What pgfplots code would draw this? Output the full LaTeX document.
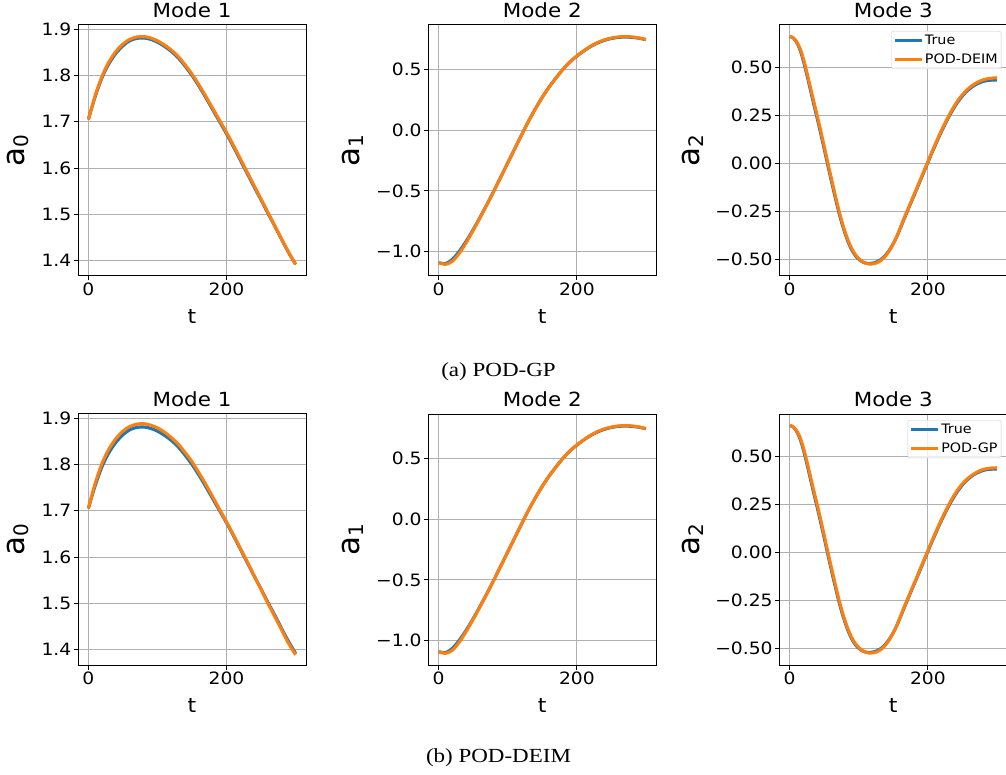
\documentclass[border=0pt]{standalone}
\usepackage{fontspec}
\setmainfont{DejaVu Sans}[FakeStretch=1.1]
\newfontfamily\labfont{DejaVu Sans}
\newfontfamily\capfont{Liberation Serif}[FakeStretch=1.15]
\usepackage{pgfplots}
\usepackage{pgfplotstable}
\pgfplotsset{compat=1.18}

\definecolor{mplblue}{HTML}{1F77B4}
\definecolor{mplorange}{HTML}{FF7F0E}
\definecolor{gridgray}{HTML}{B0B0B0}
\definecolor{leggray}{HTML}{CCCCCC}

% t, True, POD-DEIM (row a), POD-GP (row b)
\pgfplotstableread{
t   tru    deim   gp
0   1.705  1.705  1.705
10  1.755  1.757  1.760
20  1.796  1.799  1.803
30  1.826  1.830  1.834
40  1.848  1.852  1.856
50  1.864  1.868  1.872
60  1.875  1.878  1.882
70  1.880  1.883  1.887
80  1.881  1.884  1.888
90  1.878  1.881  1.885
100 1.872  1.875  1.879
110 1.863  1.866  1.870
120 1.852  1.855  1.858
130 1.838  1.841  1.844
140 1.820  1.823  1.826
150 1.800  1.803  1.806
160 1.777  1.780  1.782
170 1.752  1.755  1.757
180 1.726  1.729  1.730
190 1.700  1.703  1.703
200 1.674  1.677  1.676
210 1.646  1.649  1.648
220 1.617  1.620  1.619
230 1.588  1.591  1.590
240 1.559  1.562  1.560
250 1.531  1.533  1.530
260 1.502  1.504  1.500
270 1.474  1.475  1.471
280 1.445  1.446  1.442
290 1.417  1.418  1.413
300 1.392  1.392  1.389
}\modeone

\pgfplotstableread{
t   tru     deim    gp
0   -1.090  -1.090  -1.090
10  -1.098  -1.104  -1.104
20  -1.062  -1.078  -1.078
30  -0.995  -1.012  -1.010
40  -0.912  -0.925  -0.923
50  -0.818  -0.825  -0.824
60  -0.716  -0.720  -0.720
70  -0.610  -0.612  -0.612
80  -0.500  -0.500  -0.500
90  -0.385  -0.385  -0.385
100 -0.270  -0.270  -0.270
110 -0.155  -0.155  -0.155
120 -0.040  -0.040  -0.040
130 0.072   0.072   0.072
140 0.175   0.175   0.175
150 0.270   0.270   0.270
160 0.355   0.355   0.355
170 0.430   0.430   0.430
180 0.500   0.500   0.500
190 0.560   0.560   0.560
200 0.608   0.610   0.610
210 0.650   0.652   0.652
220 0.687   0.690   0.690
230 0.716   0.720   0.720
240 0.738   0.742   0.742
250 0.753   0.757   0.757
260 0.762   0.766   0.766
270 0.765   0.769   0.769
280 0.762   0.766   0.766
290 0.755   0.758   0.758
300 0.743   0.745   0.745
}\modetwo

\pgfplotstableread{
t   tru     deim    gp
0   0.662   0.662   0.662
5   0.655   0.656   0.656
10  0.632   0.636   0.636
15  0.592   0.600   0.600
20  0.533   0.545   0.545
25  0.461   0.474   0.474
30  0.384   0.398   0.398
35  0.307   0.322   0.322
40  0.233   0.248   0.248
45  0.155   0.170   0.170
50  0.075   0.090   0.090
55  -0.006  0.008   0.008
60  -0.086  -0.072  -0.072
65  -0.163  -0.150  -0.150
70  -0.238  -0.226  -0.226
75  -0.305  -0.294  -0.294
80  -0.363  -0.354  -0.354
85  -0.412  -0.404  -0.404
90  -0.451  -0.444  -0.444
95  -0.480  -0.474  -0.474
100 -0.499  -0.495  -0.495
105 -0.512  -0.510  -0.510
110 -0.519  -0.519  -0.519
115 -0.521  -0.524  -0.524
120 -0.519  -0.523  -0.523
125 -0.514  -0.519  -0.519
130 -0.505  -0.510  -0.510
135 -0.491  -0.496  -0.496
140 -0.472  -0.476  -0.476
145 -0.447  -0.450  -0.450
150 -0.417  -0.418  -0.418
155 -0.381  -0.380  -0.380
160 -0.339  -0.336  -0.336
165 -0.295  -0.290  -0.290
170 -0.252  -0.247  -0.247
175 -0.209  -0.205  -0.205
180 -0.167  -0.162  -0.162
185 -0.124  -0.119  -0.119
190 -0.081  -0.076  -0.076
195 -0.038  -0.033  -0.033
200 0.005   0.010   0.010
205 0.048   0.053   0.053
210 0.089   0.095   0.095
215 0.130   0.136   0.136
220 0.169   0.175   0.175
225 0.206   0.212   0.212
230 0.241   0.247   0.247
235 0.273   0.280   0.280
240 0.303   0.310   0.310
245 0.329   0.336   0.336
250 0.352   0.359   0.358
255 0.372   0.378   0.377
260 0.388   0.395   0.393
265 0.402   0.409   0.406
270 0.413   0.420   0.417
275 0.421   0.429   0.426
280 0.428   0.436   0.433
285 0.432   0.441   0.437
290 0.434   0.444   0.440
295 0.435   0.446   0.441
300 0.435   0.447   0.442
}\modethree

\pgfplotsset{
  panel/.style={
    scale only axis, width=228pt, height=251pt,
    anchor=south west,
    xmin=-15, xmax=315,
    xtick={0,200}, xticklabels={0,200},
    xtick pos=bottom, ytick pos=left,
    tick align=outside, major tick length=4.5pt,
    every tick/.style={black, line width=0.9pt},
    axis line style={line width=1pt},
    grid=major, grid style={gridgray, line width=1pt},
    ticklabel style={font=\fontsize{17}{17}\selectfont, inner sep=0pt},
    yticklabel style={anchor=east, xshift=-2pt},
    xticklabel style={anchor=north, yshift=-2pt},
    title style={font=\fontsize{19.5}{20}\selectfont, at={(0.5,1)}, anchor=base, yshift=1.7pt, inner sep=0pt},
    xlabel={t},
    xlabel style={font=\fontsize{20}{20}\selectfont, at={(axis description cs:0.5,0)}, anchor=base, yshift=-47.3pt, inner sep=0pt},
    ylabel style={font=\labfont\fontsize{31}{31}\selectfont, rotate=0, anchor=south, inner sep=0pt},
    every axis plot/.append style={line width=3.1pt, smooth, no markers},
    legend cell align=left,
    legend image code/.code={\draw[#1, line width=3pt] (0pt,0pt) -- (27pt,0pt);},
    legend style={at={(1,1)}, anchor=north east, xshift=-6pt, yshift=-6pt,
      draw=leggray, fill=white, fill opacity=0.8, text opacity=1,
      rounded corners=2pt, font=\fontsize{13}{13}\selectfont,
      inner xsep=2pt, inner ysep=2.5pt, row sep=4.5pt,
      nodes={inner sep=1.5pt}},
  },
  modeone/.style={panel, title={Mode 1},
    ymin=1.367, ymax=1.909,
    ytick={1.4,1.5,1.6,1.7,1.8,1.9}, yticklabels={1.4,1.5,1.6,1.7,1.8,1.9},
    ylabel={a\raisebox{-4pt}{\fontsize{20}{20}\selectfont 0}},
    ylabel style={at={(axis description cs:-0.2136,0.5)}}},
  modetwo/.style={panel, title={Mode 2},
    ymin=-1.2, ymax=0.864,
    ytick={-1,-0.5,0,0.5}, yticklabels={−1.0,−0.5,0.0,0.5},
    ylabel={a\raisebox{-4pt}{\fontsize{20}{20}\selectfont 1}},
    ylabel style={at={(axis description cs:-0.285,0.5)}}},
  modethree/.style={panel, title={Mode 3},
    ymin=-0.586, ymax=0.722,
    ytick={-0.5,-0.25,0,0.25,0.5}, yticklabels={−0.50,−0.25,0.00,0.25,0.50},
    ylabel={a\raisebox{-4pt}{\fontsize{20}{20}\selectfont 2}},
    ylabel style={at={(axis description cs:-0.333,0.5)}}},
}

\begin{document}
\begin{tikzpicture}[x=1pt,y=1pt]
\useasboundingbox (0,0) rectangle (1006,774);

% row (a)
\begin{axis}[modeone, at={(78pt,498pt)}]
\addplot[mplblue] table[x=t,y=tru] {\modeone};
\addplot[mplorange] table[x=t,y=deim] {\modeone};
\end{axis}
\begin{axis}[modetwo, at={(428.3pt,498pt)}]
\addplot[mplblue] table[x=t,y=tru] {\modetwo};
\addplot[mplorange] table[x=t,y=deim] {\modetwo};
\end{axis}
\begin{axis}[modethree, at={(779.3pt,498pt)}]
\addplot[mplblue] table[x=t,y=tru] {\modethree};
\addlegendentry{True}
\addplot[mplorange] table[x=t,y=deim] {\modethree};
\addlegendentry{POD-DEIM}
\end{axis}
\node[font=\capfont\fontsize{20}{20}\selectfont, anchor=base] at (498.5,397.3) {(a) POD-GP};

% row (b)
\begin{axis}[modeone, at={(78pt,109pt)}]
\addplot[mplblue] table[x=t,y=tru] {\modeone};
\addplot[mplorange] table[x=t,y=gp] {\modeone};
\end{axis}
\begin{axis}[modetwo, at={(428.3pt,109pt)}]
\addplot[mplblue] table[x=t,y=tru] {\modetwo};
\addplot[mplorange] table[x=t,y=gp] {\modetwo};
\end{axis}
\begin{axis}[modethree, at={(779.3pt,109pt)}]
\addplot[mplblue] table[x=t,y=tru] {\modethree};
\addlegendentry{True}
\addplot[mplorange] table[x=t,y=gp] {\modethree};
\addlegendentry{POD-GP}
\end{axis}
\node[font=\capfont\fontsize{20}{20}\selectfont, anchor=base] at (498.5,11.5) {(b) POD-DEIM};
\end{tikzpicture}
\end{document}
